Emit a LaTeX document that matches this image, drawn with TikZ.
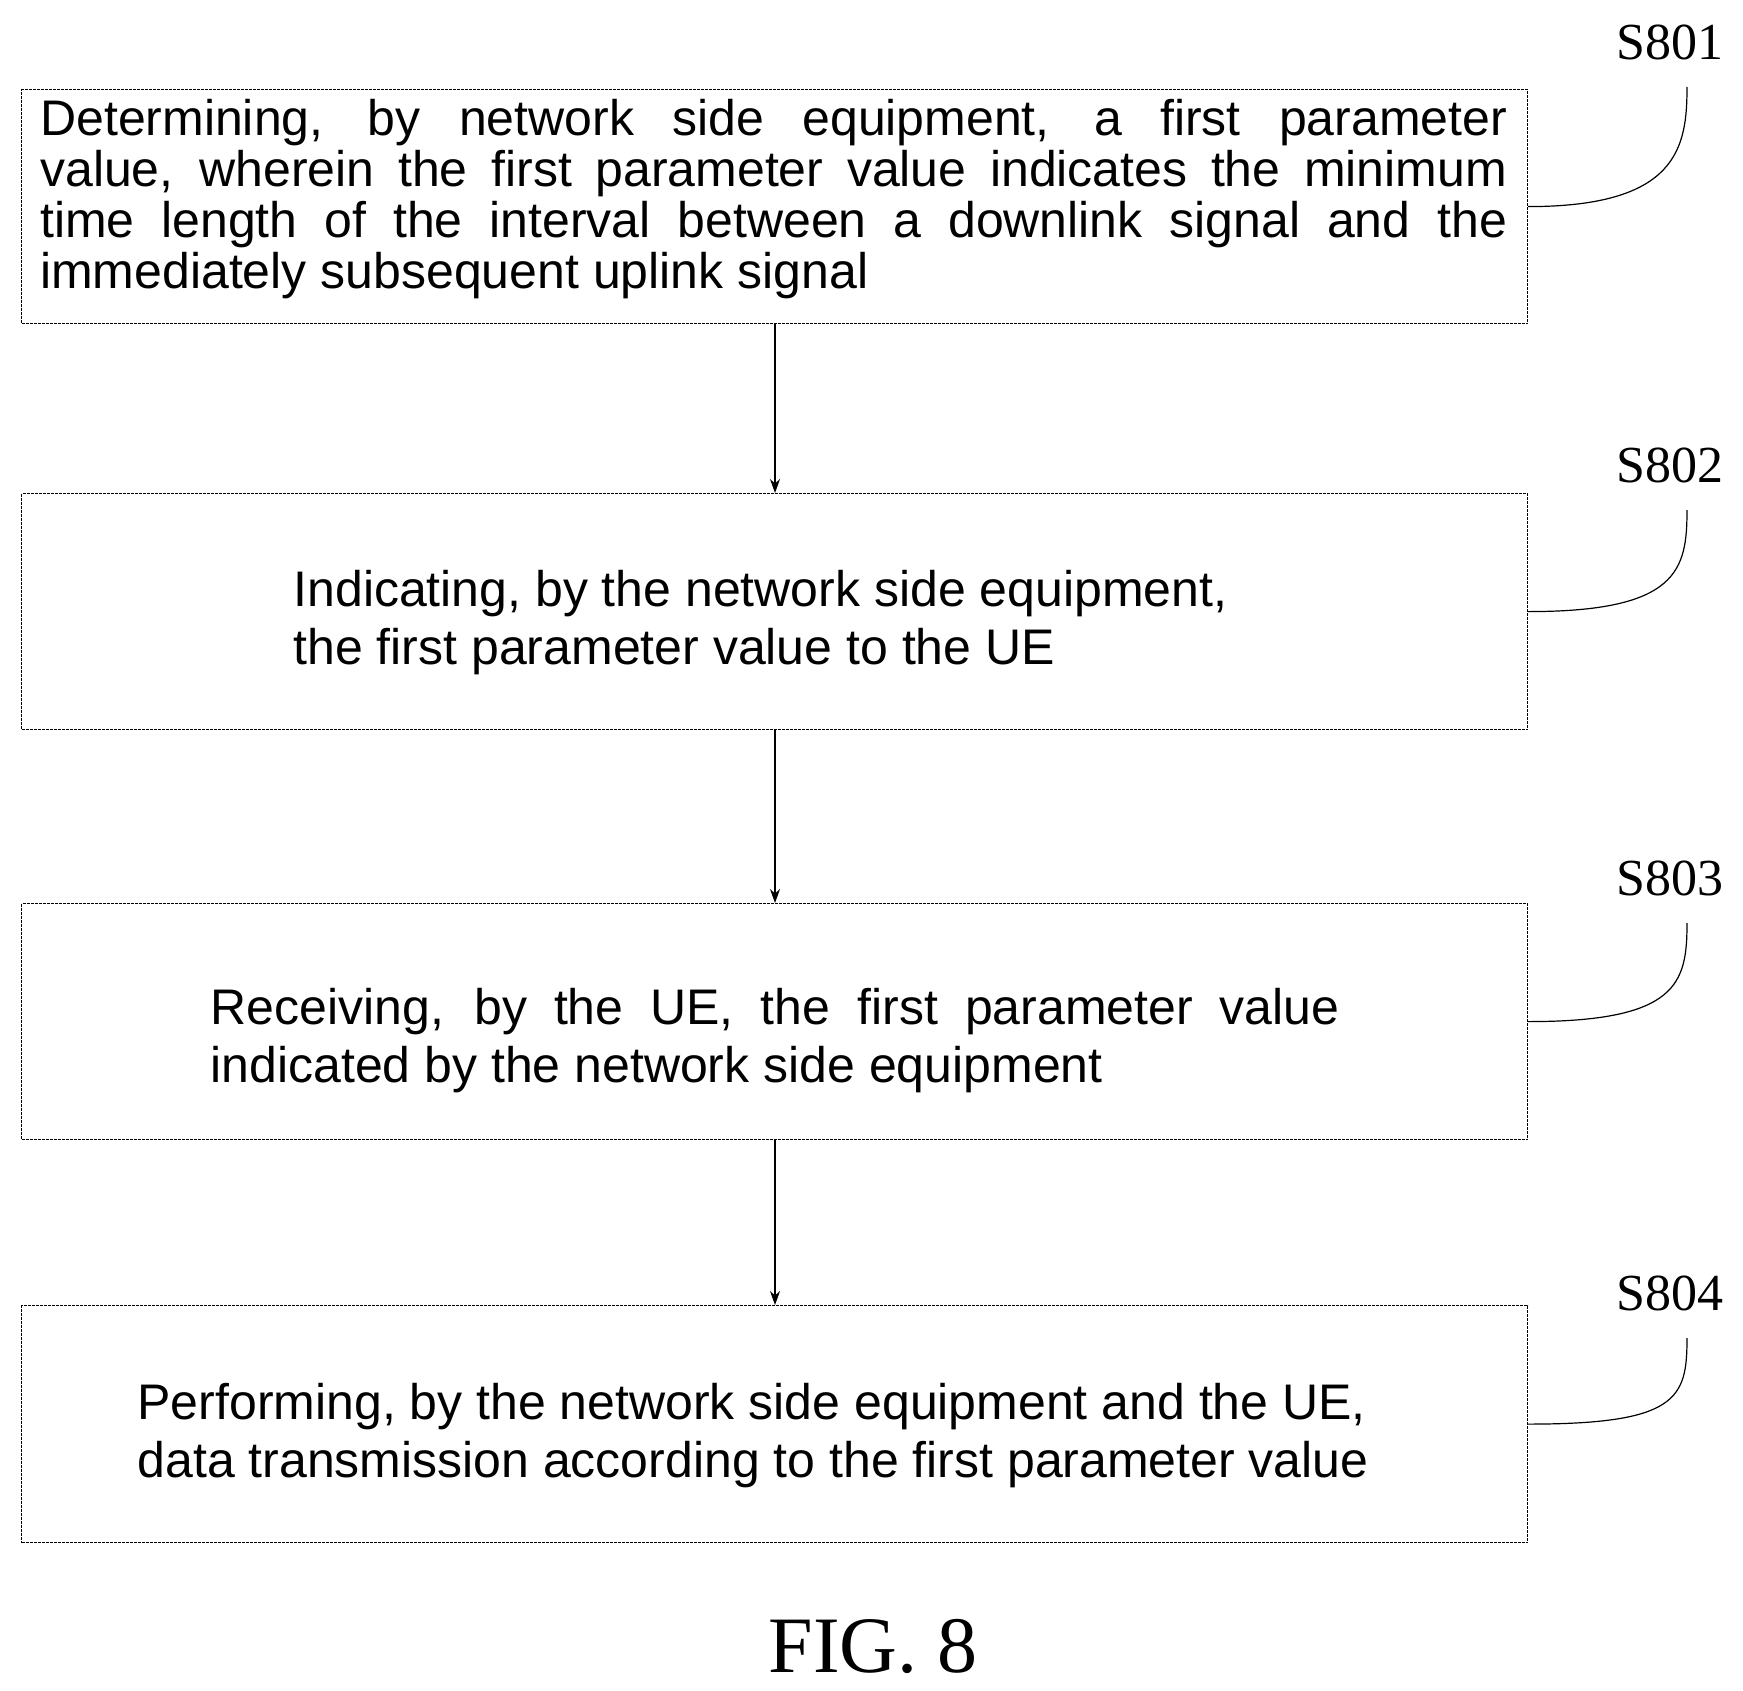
\documentclass[tikz,border=0pt]{standalone}
\usetikzlibrary{arrows.meta}
\usepackage{fontspec}
\setmainfont{Liberation Sans}
\newfontfamily\seriffont{Liberation Serif}
\begin{document}
\begin{tikzpicture}[x=1pt,y=1pt,
 box/.style={draw,line width=1.2pt,dash pattern=on 3pt off 1pt,minimum width=1506pt,inner sep=0pt,anchor=north west},
 txt/.style={font=\fontsize{50}{58}\selectfont,align=left},
 lab/.style={font=\seriffont\fontsize{52}{60}\selectfont},
 arr/.style={-{Stealth[length=14pt,width=10pt]},line width=1.2pt},
 lead/.style={line width=1.2pt}]
\useasboundingbox (0,0) rectangle (1743,-1691);
\node[box,minimum height=234pt] (b1) at (21,-89) {};
\node[box,minimum height=236pt] (b2) at (21,-493) {};
\node[box,minimum height=236pt] (b3) at (21,-903) {};
\node[box,minimum height=237pt] (b4) at (21,-1305) {};
\node[txt,font=\fontsize{50}{51}\selectfont,anchor=north west,text width=1467pt,align=justify,inner sep=0pt] (t1) at (40,-99)
 {Determining, by network side equipment, a first parameter\linebreak value, wherein the first parameter value indicates the minimum\linebreak time length of the interval between a downlink signal and the\linebreak immediately subsequent uplink signal};
\node[txt,anchor=west] (t2) at (290,-623) {Indicating, by the network side equipment,\\the first parameter value to the UE};
\node[txt,anchor=west,text width=1129pt,align=justify] (t3) at (207,-1041) {Receiving, by the UE, the first parameter value\linebreak indicated by the network side equipment};
\node[txt,anchor=west] (t4) at (134,-1436) {Performing, by the network side equipment and the UE,\\data transmission according to the first parameter value};
\draw[arr] (b1.south -| 775,0) -- (b2.north -| 775,0);
\draw[arr] (b2.south -| 775,0) -- (b3.north -| 775,0);
\draw[arr] (b3.south -| 775,0) -- (b4.north -| 775,0);
\foreach \i/\y in {1/42,2/465,3/878,4/1293}{
 \node[lab] (l\i) at (1670,-\y) {S80\i};
 \coordinate (e\i) at (1687,-\y-45);
 \draw[lead] (b\i.east) .. controls ++(150,0) and ++(0,-60) .. (e\i);
}
\node[font=\seriffont\fontsize{80}{90}\selectfont] (fig) at (873,-1646) {FIG. 8};
\end{tikzpicture}
\end{document}
